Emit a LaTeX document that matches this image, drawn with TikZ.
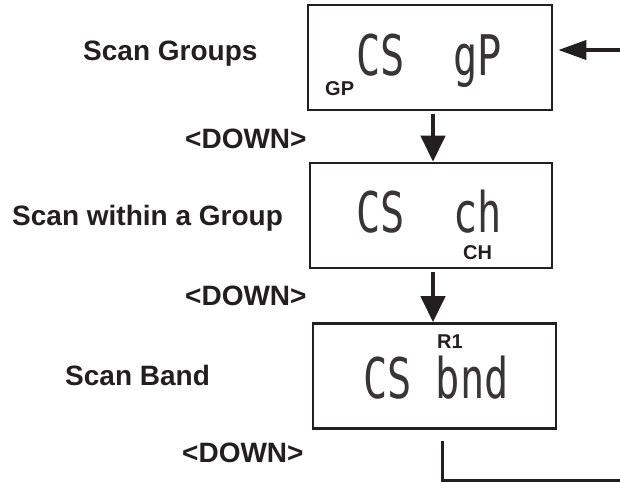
\documentclass[tikz,border=0pt]{standalone}
\usepackage{fontspec}
\setmainfont{Liberation Sans}
\newfontfamily\lcdfont{DejaVu Sans Mono}
\usetikzlibrary{arrows.meta}
\definecolor{ink}{RGB}{35,31,32}
\begin{document}
\begin{tikzpicture}[x=1pt,y=-1pt,
  every node/.style={text=ink},
  lcdbox/.style={draw=ink, line width=2.6pt, minimum width=#1, minimum height=105pt, inner sep=0pt},
  lbl/.style={font=\fontsize{28}{32}\selectfont\bfseries, anchor=base west, inner sep=0pt},
  tag/.style={font=\fontsize{20}{24}\selectfont\bfseries, anchor=base west, inner sep=0pt},
  lcd/.style={font=\fontsize{56}{58}\selectfont\lcdfont, anchor=base west, inner sep=0pt, xscale=0.72, text=ink!90},
  flow/.style={draw=ink, line width=4.4pt, -{Triangle[width=24pt,length=26pt]}},
  side/.style={draw=ink, line width=3.8pt, -{Triangle[width=19pt,length=28pt]}},
  exitline/.style={draw=ink, line width=3pt}]
\useasboundingbox (0,0) rectangle (620,483);

% boxes
\node[lcdbox=244pt] (box1) at (430,57.5) {};
\node[lcdbox=242pt] (box2) at (431,215.5) {};
\node[lcdbox=243pt] (box3) at (434.5,376) {};

% LCD readouts
\node[lcd] (lcd1) at (356,75) {CS\ \ gP};
\node[lcd] (lcd2) at (356,232) {CS\ \ ch};
\node[lcd] (lcd3) at (363,398) {CS bnd};

% small tags
\node[tag] (tgp) at (325,95) {GP};
\node[tag] (tch) at (463,259) {CH};
\node[tag] (tr1) at (437,348) {R1};

% left labels
\node[lbl] (l1) at (83,60) {Scan Groups};
\node[lbl] (d1) at (185,148) {<DOWN>};
\node[lbl] (l2) at (12,225) {Scan within a Group};
\node[lbl] (d2) at (185,305) {<DOWN>};
\node[lbl] (l3) at (65,385) {Scan Band};
\node[lbl] (d3) at (182,462) {<DOWN>};

% connectors
\coordinate (c12) at (433,0);
\draw[flow] ([yshift=-3pt]box1.south -| c12) -- (box2.north -| c12);
\draw[flow] ([yshift=-3pt]box2.south -| c12) -- (box3.north -| c12);

\coordinate (inp) at (620,50);
\draw[side] (inp) -- ([xshift=5pt]box1.east |- inp);

\coordinate (ex) at (442,0);
\coordinate (outp) at (620,480);
\draw[exitline] ([yshift=-11pt]box3.south -| ex) |- (outp);
\end{tikzpicture}
\end{document}
